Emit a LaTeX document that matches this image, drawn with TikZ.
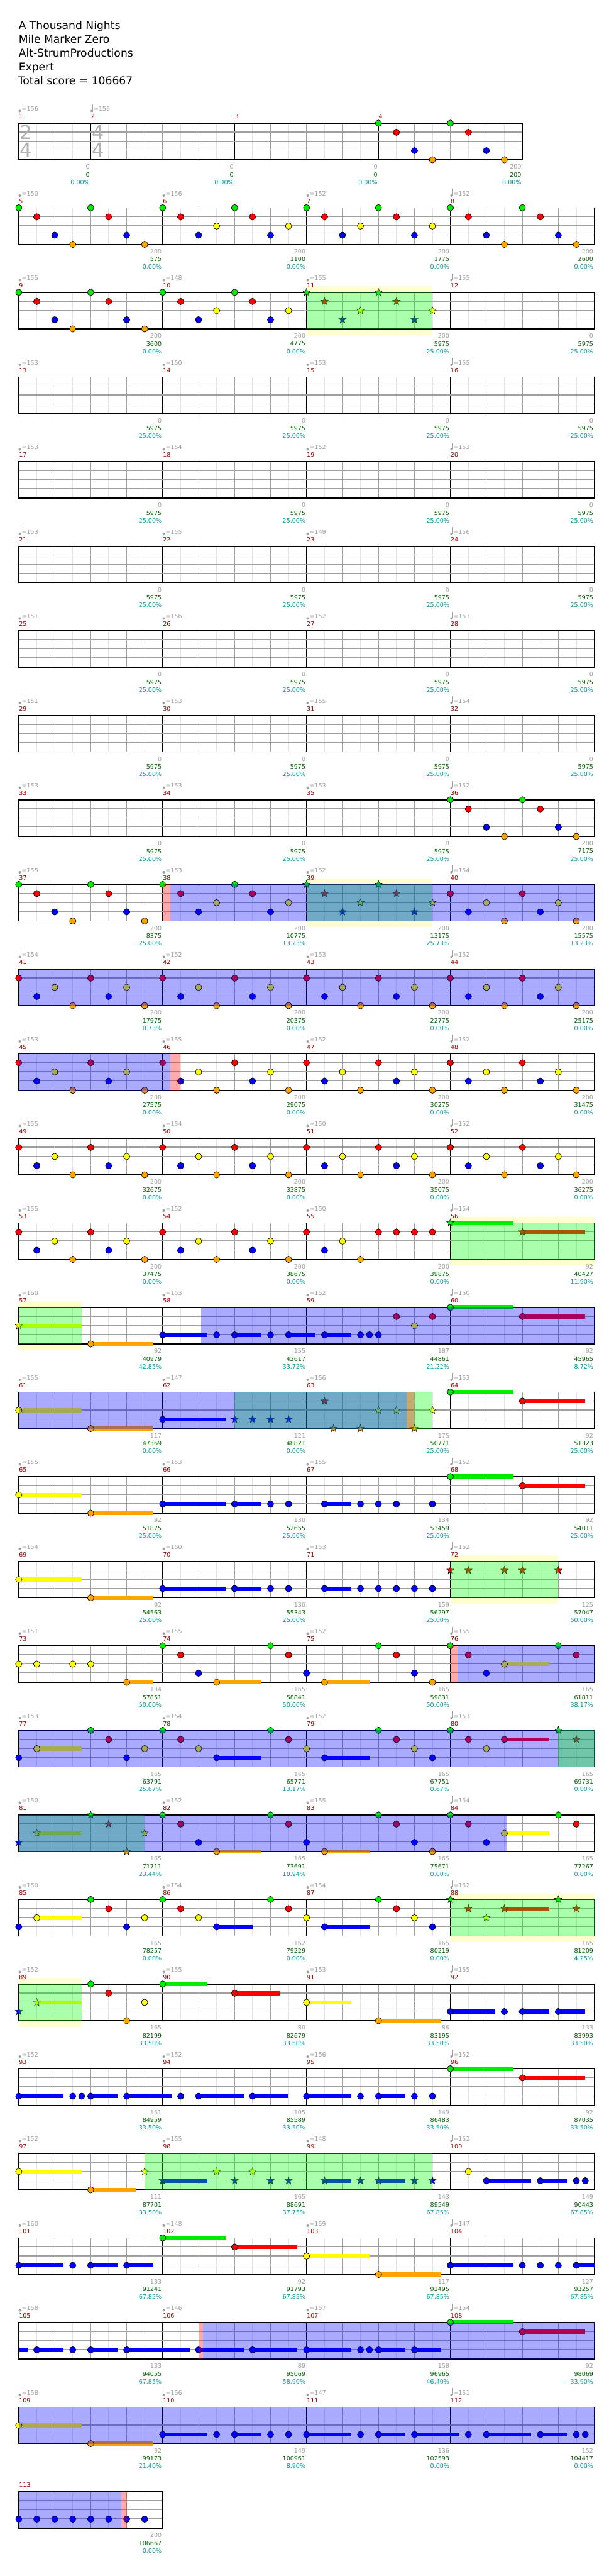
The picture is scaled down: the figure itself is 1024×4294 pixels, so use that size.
\documentclass[tikz,border=0pt]{standalone}
\usepackage{fontspec}
\setmainfont{DejaVu Sans}
\definecolor{lane0}{RGB}{0,235,0}
\definecolor{lane1}{RGB}{255,0,0}
\definecolor{lane2}{RGB}{255,255,0}
\definecolor{lane3}{RGB}{0,0,255}
\definecolor{lane4}{RGB}{255,165,0}
\definecolor{cglight}{RGB}{226,226,226}
\definecolor{cgbeat}{RGB}{160,160,160}
\definecolor{lbgray}{RGB}{160,160,160}
\definecolor{lbgreen}{RGB}{0,100,0}
\definecolor{lbteal}{RGB}{0,153,153}
\definecolor{mnum}{RGB}{153,0,0}
\definecolor{ybg}{RGB}{255,255,208}
\definecolor{tsig}{RGB}{176,176,176}
\tikzset{
  glight/.style={draw=cglight,line width=1pt},
  gbeat/.style={draw=cgbeat,line width=1pt},
  gmeas/.style={draw=black,line width=1pt},
  glane/.style={draw=cgbeat,line width=1.5pt},
  gborder/.style={draw=black,line width=1.6pt},
  notest/.style={draw=black,line width=0.7pt},
  starst/.style={draw=black,line width=0.5pt},
  txt/.style={inner sep=0pt,font=\fontsize{10}{11}\selectfont},
  ttl/.style={inner sep=0pt,anchor=base west,font=\fontsize{18}{20}\selectfont},
  tsg/.style={inner sep=0pt,text=tsig,font=\fontsize{32}{32}\selectfont}
}
\newcommand\NoteList[2]{\foreach \pp/\lan in {#2}{\filldraw[notest,fill=lane\lan] ({31.3+30*(\pp)},{205.3+141*(#1-1)+15.25*\lan}) circle[radius=5.3pt];}}
\newcommand\StarList[2]{\foreach \pp/\lan in {#2}{\filldraw[starst,fill=lane\lan,shift={({31.3+30*(\pp)},{205.3+141*(#1-1)+15.25*\lan})}] (-90:6.5) -- (-54:2.8) -- (-18:6.5) -- (18:2.8) -- (54:6.5) -- (90:2.8) -- (126:6.5) -- (162:2.8) -- (198:6.5) -- (234:2.8) -- cycle;}}
\newcommand\SusList[2]{\foreach \pp/\lan/\ee in {#2}{\fill[fill=lane\lan] ({31.3+30*(\pp)},{205.3+141*(#1-1)+15.25*\lan-3.5}) rectangle ({31.3+30*(\ee)},{205.3+141*(#1-1)+15.25*\lan+3.5});}}
\newcommand\Ov[4]{\fill[fill=#4,fill opacity=0.335] ({31.3+30*(#2)},{205.3+141*(#1-1)}) rectangle ({31.3+30*(#3)},{205.3+141*(#1-1)+61});}
\newcommand\Yb[3]{\fill[fill=ybg] ({31.3+30*(#2)},{205.3+141*(#1-1)-10}) rectangle ({31.3+30*(#3)},{205.3+141*(#1-1)+71});}
\newcommand\StaffGen[5]{%
  \pgfmathsetmacro\ty{205.3+141*(#1-1)}%
  \pgfmathsetmacro\xe{31.3+30*#2}%
  \fill[white] (31.3,\ty) rectangle (\xe,\ty+61);
  \foreach \ii in {1,3,...,#3} \draw[glight] ({31.3+30*\ii},\ty) -- ++(0,61);
  \foreach \ii in {#4} \draw[gbeat] ({31.3+30*\ii},\ty) -- ++(0,61);
  \ifx\relax#5\relax\else\foreach \ii in {#5} \draw[gmeas] ({31.3+30*\ii},\ty) -- ++(0,61);\fi
  \foreach \jj in {15,30,45} \draw[glane] (31.3,\ty+\jj) -- (\xe,\ty+\jj);
  \draw[gborder] (31.3,\ty) rectangle (\xe,\ty+61);
}
\newcommand\TempoMark[4]{%
  \fill[lbgray] (#2+1.8,#3-20.3) circle[radius=2.1pt];
  \draw[lbgray,line width=0.8pt] (#2+3.6,#3-20.5) -- (#2+3.6,#3-31.5);
  \node[txt,text=lbgray,anchor=west] (t#1) at (#2+4.8,#3-23.6) {=#4};
}
\newcommand\MeasLabels[7]{%
  \node[txt,text=mnum,anchor=west] (n#1) at (#2+0.3,#4-11) {#1};
  \node[txt,text=lbgray,anchor=east] (a#1) at (#3-1.5,#4+72.7) {#5};
  \node[txt,text=lbgreen,anchor=east] (b#1) at (#3-1.5,#4+85.7) {#6};
  \node[txt,text=lbteal,anchor=east] (c#1) at (#3-1.5,#4+98.7) {#7\%};
}
\begin{document}
\begin{tikzpicture}[x=1pt,y=-1pt]
\useasboundingbox (0,0) rectangle (1024,4294);
\fill[white] (0,0) rectangle (1024,4294);
% title
\node[ttl] (title1) at (31,48.3) {A Thousand Nights};
\node[ttl] (title2) at (31,71.4) {Mile Marker Zero};
\node[ttl] (title3) at (31,94.5) {Alt-StrumProductions};
\node[ttl] (title4) at (31,117.6) {Expert};
\node[ttl] (title5) at (30,140.7) {Total score = 106667};
% star phrase backgrounds
\Yb{3}{16}{23}\Yb{10}{16}{23}\Yb{14}{24}{32}\Yb{15}{0}{3.5}\Yb{18}{24}{30}\Yb{22}{24}{32}\Yb{23}{0}{3.5}
% staves
\StaffGen{1}{28}{27}{2,6,8,10,14,16,18,22,24,26}{4,12,20}
\foreach \rw in {2,...,28}{\StaffGen{\rw}{32}{31}{2,4,6,10,12,14,18,20,22,26,28,30}{8,16,24}}
\StaffGen{29}{8}{7}{2,4,6}{}
% time signatures
\node[tsg] (ts1a) at (43.3,220.8) {2};
\node[tsg] (ts1b) at (43.3,250.3) {4};
\node[tsg] (ts2a) at (164,220.8) {4};
\node[tsg] (ts2b) at (164,250.3) {4};
% notes
\NoteList{1}{20/0,21/1,22/3,23/4,24/0,25/1,26/3,27/4}
\NoteList{2}{0/0,1/1,2/3,3/4,4/0,5/1,6/3,7/4,8/0,9/1,10/3,11/2,12/0,13/1,14/3,15/2,16/0,17/1,18/3,19/2,20/0,21/1,22/3,23/2,24/0,25/1,26/3,27/4,28/0,29/1,30/3,31/4}
\NoteList{3}{0/0,1/1,2/3,3/4,4/0,5/1,6/3,7/4,8/0,9/1,10/3,11/2,12/0,13/1,14/3,15/2}
\StarList{3}{16/0,17/1,18/3,19/2,20/0,21/1,22/3,23/2}
\NoteList{9}{24/0,25/1,26/3,27/4,28/0,29/1,30/3,31/4}
\NoteList{10}{0/0,1/1,2/3,3/4,4/0,5/1,6/3,7/4,8/0,9/1,10/3,11/2,12/0,13/1,14/3,15/2,24/1,25/3,26/2,27/4,28/1,29/3,30/2,31/4}
\StarList{10}{16/0,17/1,18/3,19/2,20/0,21/1,22/3,23/2}
\foreach \rw in {11,12,13}{\foreach \qq in {0,4,...,28}{\NoteList{\rw}{\qq/1,\qq+1/3,\qq+2/2,\qq+3/4}}}
\foreach \qq in {0,4,8,12}{\NoteList{14}{\qq/1,\qq+1/3,\qq+2/2,\qq+3/4}}
\NoteList{14}{16/1,17/3,18/2,19/4,20/1,21/1,22/1,23/1}
\SusList{14}{24/0/27.5,28/1/31.5}
\StarList{14}{24/0,28/1}
\SusList{15}{0/2/3.5,4/4/7.5,8/3/10.5,12/3/13.5,15/3/16.5,17/3/18.5,24/0/27.5,28/1/31.5}
\StarList{15}{0/2}
\NoteList{15}{4/4,8/3,11/3,12/3,14/3,15/3,17/3,19/3,19.5/3,20/3,21/1,22/2,23/1,24/0,28/1}
\SusList{16}{0/2/3.5,4/4/7.5,8/3/11.5,24/0/27.5,28/1/31.5}
\NoteList{16}{0/2,4/4,8/3,24/0,28/1}
\StarList{16}{12/3,13/3,14/3,15/3,17/1,17.5/4,19/4,20/2,21/2,22/4,23/2}
\SusList{17}{0/2/3.5,4/4/7.5,8/3/11.5,12/3/13.5,17/3/18.5,24/0/27.5,28/1/31.5}
\NoteList{17}{0/2,4/4,8/3,12/3,14/3,15/3,17/3,19/3,20/3,21/3,23/3,24/0,28/1}
\SusList{18}{0/2/3.5,4/4/7.5,8/3/11.5,12/3/13.5,17/3/18.5}
\NoteList{18}{0/2,4/4,8/3,12/3,14/3,15/3,17/3,19/3,20/3,21/3,22/3,23/3}
\StarList{18}{24/1,25/1,27/1,28/1,30/1}
\SusList{19}{6/4/7.5,11/4/13.5,17/4/19.5,27/2/29.5}
\NoteList{19}{0/2,1/2,3/2,4/2,6/4,8/0,9/1,10/3,11/4,14/0,15/1,16/3,17/4,20/0,21/1,22/3,23/4,24/0,25/1,26/3,27/2,30/0,31/1}
\SusList{20}{1/2/3.5,11/3/13.5,17/3/19.5,27/1/29.5}
\NoteList{20}{0/3,1/2,4/0,5/1,6/3,7/2,8/0,9/1,10/2,11/3,14/0,15/1,16/2,17/3,20/0,21/1,22/2,23/3,24/0,25/1,26/2,27/1}
\StarList{20}{30/0,31/1}
\SusList{21}{1/2/3.5,11/4/13.5,17/4/19.5,27/2/29.5}
\StarList{21}{0/3,1/2,4/0,5/1,6/4,7/2}
\NoteList{21}{8/0,9/1,10/3,11/4,14/0,15/1,16/3,17/4,20/0,21/1,22/3,23/4,24/0,25/1,26/3,27/2,30/0,31/1}
\SusList{22}{1/2/3.5,11/3/13,17/3/19.5,27/1/29.5}
\NoteList{22}{0/3,1/2,4/0,5/1,6/3,7/2,8/0,9/1,10/2,11/3,14/0,15/1,16/2,17/3,20/0,21/1,22/2,23/3}
\StarList{22}{24/0,25/1,26/2,27/1,30/0,31/1}
\SusList{23}{1/2/3.5,8/0/10.5,12/1/14.5,16/2/18.5,20/4/23.5,24/3/26.5,28/3/29.5,30/3/31.5}
\StarList{23}{0/3,1/2}
\NoteList{23}{4/0,5/1,6/4,7/2,8/0,12/1,16/2,20/4,24/3,27/3,28/3,30/3}
\SusList{24}{0/3/2.5,4/3/5.5,6/3/8.5,10/3/12.5,13/3/15,16/3/18.5,20/3/21.5,24/0/27.5,28/1/31.5}
\NoteList{24}{0/3,3/3,3.5/3,4/3,6/3,9/3,10/3,13/3,16/3,19/3,20/3,22/3,23/3,24/0,28/1}
\SusList{25}{0/2/3.5,4/4/6.5,8/3/10.5,17/3/18.5,20/3/21.5,26/3/28.5,29/3/30.5}
\NoteList{25}{0/2,4/4,25/2,26/3,29/3,31/3,31.5/3}
\StarList{25}{7/2,8/3,11/2,12/3,13/2,14/3,15/3,17/3,19/3,20/3,22/3,23/3}
\SusList{26}{0/3/2.5,4/3/5.5,6/3/7.5,8/0/11.5,12/1/15.5,16/2/19.5,20/4/23.5,24/3/27.5,31/3/32}
\NoteList{26}{0/3,3/3,4/3,6/3,8/0,12/1,16/2,20/4,24/3,28/3,29/3,30/3,31/3}
\SusList{27}{0/3/0.48,1/3/2.5,4/3/5.5,6/3/9.5,10/3/12.5,13/3/15.5,16/3/18.5,20/3/21.5,22/3/23.5,24/0/27.5,28/1/31.5}
\NoteList{27}{1/3,3/3,4/3,6/3,10/3,13/3,16/3,19/3,19.5/3,20/3,22/3,24/0,28/1}
\SusList{28}{0/2/3.5,4/4/7.5,8/3/10.5,12/3/13.5,16/3/18.5,20/3/21.5,22/3/24.5,26/3/28.5,29/3/30.5}
\NoteList{28}{0/2,4/4,8/3,11/3,12/3,14/3,15/3,16/3,19/3,20/3,22/3,25/3,26/3,29/3,31/3,31.5/3}
\NoteList{29}{0/3,1/3,2/3,3/3,4/3,5/3,6/3,7/3}
% overlays
\Ov{3}{16}{23}{green}
\Ov{10}{16}{23}{green}\Ov{10}{8.43}{32}{blue}\Ov{10}{8}{8.43}{red}
\Ov{11}{0}{32}{blue}
\Ov{12}{0}{8.43}{blue}\Ov{12}{8.43}{9}{red}
\Ov{14}{24}{32}{green}
\Ov{15}{0}{3.5}{green}\Ov{15}{10.13}{32}{blue}
\Ov{16}{12}{23}{green}\Ov{16}{0}{21.57}{blue}\Ov{16}{21.57}{22}{red}
\Ov{18}{24}{30}{green}
\Ov{19}{24}{24.4}{red}\Ov{19}{24.4}{32}{blue}
\Ov{20}{0}{32}{blue}\Ov{20}{30}{32}{green}
\Ov{21}{0}{7}{green}\Ov{21}{0}{27.12}{blue}
\Ov{22}{24}{32}{green}
\Ov{23}{0}{3.5}{green}
\Ov{25}{7}{23}{green}
\Ov{27}{10}{10.26}{red}\Ov{27}{10.26}{32}{blue}
\Ov{28}{0}{32}{blue}
\Ov{29}{0}{5.69}{blue}\Ov{29}{5.69}{6}{red}
% texts row 1
\TempoMark{1}{31.3}{205.3}{156}
\TempoMark{2}{151.3}{205.3}{156}
\MeasLabels{1}{31.3}{151.3}{205.3}{0}{0}{0.00}
\MeasLabels{2}{151.3}{391.3}{205.3}{0}{0}{0.00}
\MeasLabels{3}{391.3}{631.3}{205.3}{0}{0}{0.00}
\MeasLabels{4}{631.3}{871.3}{205.3}{200}{200}{0.00}
% texts rows 2-28
\foreach \mM/\tV/\aV/\bV/\cV in {
5/150/200/575/0.00,6/156/200/1100/0.00,7/152/200/1775/0.00,8/152/200/2600/0.00,
9/155/200/3600/0.00,10/148/200/4775/0.00,11/155/200/5975/25.00,12/155/0/5975/25.00,
13/153/0/5975/25.00,14/150/0/5975/25.00,15/153/0/5975/25.00,16/155/0/5975/25.00,
17/153/0/5975/25.00,18/154/0/5975/25.00,19/152/0/5975/25.00,20/153/0/5975/25.00,
21/153/0/5975/25.00,22/155/0/5975/25.00,23/149/0/5975/25.00,24/156/0/5975/25.00,
25/151/0/5975/25.00,26/156/0/5975/25.00,27/152/0/5975/25.00,28/153/0/5975/25.00,
29/151/0/5975/25.00,30/153/0/5975/25.00,31/155/0/5975/25.00,32/154/0/5975/25.00,
33/153/0/5975/25.00,34/153/0/5975/25.00,35/153/0/5975/25.00,36/152/200/7175/25.00,
37/155/200/8375/25.00,38/153/200/10775/13.23,39/152/200/13175/25.73,40/154/200/15575/13.23,
41/154/200/17975/0.73,42/152/200/20375/0.00,43/153/200/22775/0.00,44/152/200/25175/0.00,
45/153/200/27575/0.00,46/155/200/29075/0.00,47/152/200/30275/0.00,48/152/200/31475/0.00,
49/155/200/32675/0.00,50/154/200/33875/0.00,51/150/200/35075/0.00,52/152/200/36275/0.00,
53/155/200/37475/0.00,54/152/200/38675/0.00,55/150/200/39875/0.00,56/154/92/40427/11.90,
57/160/92/40979/42.85,58/153/155/42617/33.72,59/152/187/44861/21.22,60/150/92/45965/8.72,
61/155/117/47369/0.00,62/147/121/48821/0.00,63/156/175/50771/25.00,64/153/92/51323/25.00,
65/155/92/51875/25.00,66/153/130/52655/25.00,67/155/134/53459/25.00,68/152/92/54011/25.00,
69/154/92/54563/25.00,70/150/130/55343/25.00,71/153/159/56297/25.00,72/152/125/57047/50.00,
73/151/134/57851/50.00,74/155/165/58841/50.00,75/152/165/59831/50.00,76/155/165/61811/38.17,
77/153/165/63791/25.67,78/154/165/65771/13.17,79/152/165/67751/0.67,80/153/165/69731/0.00,
81/150/165/71711/23.44,82/152/165/73691/10.94,83/155/165/75671/0.00,84/154/165/77267/0.00,
85/150/165/78257/0.00,86/154/162/79229/0.00,87/154/165/80219/0.00,88/152/165/81209/4.25,
89/152/165/82199/33.50,90/155/80/82679/33.50,91/153/86/83195/33.50,92/155/133/83993/33.50,
93/152/161/84959/33.50,94/152/105/85589/33.50,95/156/149/86483/33.50,96/152/92/87035/33.50,
97/152/111/87701/33.50,98/155/165/88691/37.75,99/148/143/89549/67.85,100/152/149/90443/67.85,
101/160/133/91241/67.85,102/148/92/91793/67.85,103/159/117/92495/67.85,104/147/127/93257/67.85,
105/158/133/94055/67.85,106/146/89/95069/58.90,107/157/158/96965/46.40,108/154/92/98069/33.90,
109/158/92/99173/21.40,110/156/149/100961/8.90,111/147/136/102593/0.00,112/151/152/104417/0.00}{
  \pgfmathtruncatemacro\rr{(\mM-1)/4+1}
  \pgfmathtruncatemacro\kk{\mM-1-4*(\rr-1)}
  \pgfmathsetmacro\xs{31.3+240*\kk}
  \pgfmathsetmacro\xf{\xs+240}
  \pgfmathsetmacro\ty{205.3+141*(\rr-1)}
  \TempoMark{\mM}{\xs}{\ty}{\tV}
  \MeasLabels{\mM}{\xs}{\xf}{\ty}{\aV}{\bV}{\cV}
}
% last measure
\MeasLabels{113}{31.3}{271.3}{4153.3}{200}{106667}{0.00}
\end{tikzpicture}
\end{document}
